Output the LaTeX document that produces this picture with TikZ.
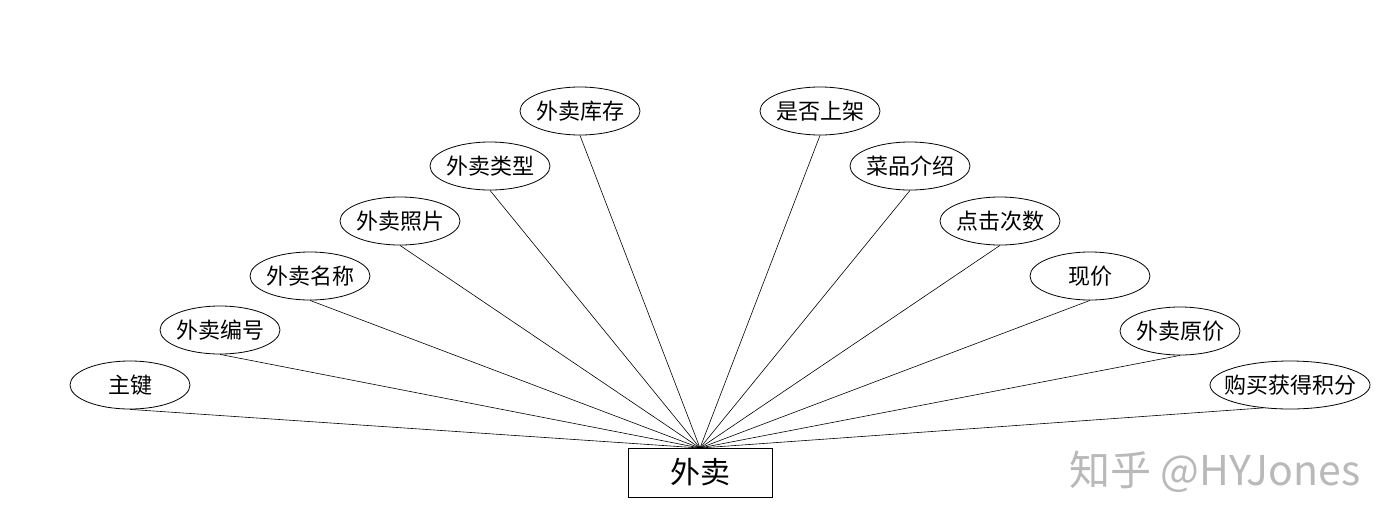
\documentclass[tikz,border=0pt]{standalone}
\usepackage{fontspec}
\setmainfont{Noto Sans CJK SC}
\newfontfamily\cjk{Noto Sans CJK SC}
\usetikzlibrary{shapes.geometric}
\begin{document}
\begin{tikzpicture}[x=1pt,y=-1pt,
  attr/.style={draw=black, line width=0.8pt, ellipse, minimum width=120pt, minimum height=48pt, inner ysep=0pt, inner xsep=-2pt, font=\cjk\fontsize{22}{24}\selectfont},
  ent/.style={draw=black, line width=0.8pt, rectangle, minimum width=144pt, minimum height=49pt, inner sep=0pt, font=\cjk\fontsize{30}{34}\selectfont},
  link/.style={draw=black, line width=0.6pt}]
\useasboundingbox (0,0) rectangle (1400,528);
\fill[white] (0,0) rectangle (1400,528);
\node[ent] (e) at (700,472.5) {外卖};
\coordinate (hub) at (700,448);
\node[attr] (a1) at (130,385) {主键};
\node[attr] (a2) at (220,330) {外卖编号};
\node[attr] (a3) at (310,276) {外卖名称};
\node[attr] (a4) at (400,221) {外卖照片};
\node[attr] (a5) at (490,166) {外卖类型};
\node[attr] (a6) at (580,111) {外卖库存};
\node[attr] (a7) at (820,111) {是否上架};
\node[attr] (a8) at (910,166) {菜品介绍};
\node[attr] (a9) at (1000,221) {点击次数};
\node[attr] (a10) at (1090,276) {现价};
\node[attr] (a11) at (1180,331) {外卖原价};
\node[attr, minimum width=160pt, inner xsep=-10pt] (a12) at (1290,385) {购买获得积分};
\foreach \i in {1,...,11} {\draw[link] (hub) -- (a\i.south);}
\draw[link] (hub) -- (a12.220);
\node[text=gray!55, font=\cjk\fontsize{41}{44}\selectfont, inner sep=0pt] (wm) at (1215,472) {知乎 @HYJones};
\end{tikzpicture}
\end{document}
